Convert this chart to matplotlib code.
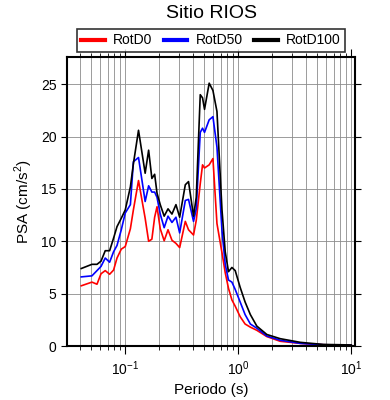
import numpy as np
import matplotlib
matplotlib.use('Agg')
import matplotlib.pyplot as plt
from matplotlib.ticker import LogLocator, MultipleLocator, NullFormatter

# -------------------------------------------------------------------------
# Datos (periodo en s, PSA en cm/s^2)
# -------------------------------------------------------------------------
periodo = [0.0408, 0.0507, 0.0562, 0.0610, 0.0665, 0.0727, 0.0788, 0.0845,
           0.0922, 0.100, 0.111, 0.118, 0.131, 0.150, 0.161, 0.172, 0.182,
           0.191, 0.204, 0.221, 0.239, 0.259, 0.281, 0.303, 0.340, 0.363,
           0.402, 0.425, 0.461, 0.483, 0.503, 0.553, 0.597, 0.648, 0.718,
           0.767, 0.820, 0.879, 0.940, 1.04, 1.15, 1.28, 1.46, 1.79, 2.35,
           3.54, 5.65, 10.0]

rotd0 = [5.75, 6.1, 5.9, 6.9, 7.2, 6.85, 7.25, 8.4, 9.25, 9.5, 11.2, 13.0,
         15.8, 12.2, 10.0, 10.2, 12.3, 13.3, 11.2, 10.05, 11.1, 10.1, 9.8,
         9.4, 11.9, 11.1, 10.6, 12.0, 15.5, 17.3, 17.0, 17.3, 17.9, 11.7,
         8.9, 7.0, 5.5, 4.4, 3.8, 2.8, 2.1, 1.8, 1.5, 0.9, 0.45, 0.25,
         0.12, 0.07]

rotd50 = [6.6, 6.7, 7.2, 7.6, 8.4, 8.0, 9.0, 9.6, 11.1, 12.7, 13.5, 17.6,
          18.0, 13.8, 15.3, 14.7, 14.7, 14.2, 12.6, 11.3, 12.4, 11.8, 12.3,
          10.8, 13.9, 14.0, 11.9, 13.1, 20.4, 20.8, 20.4, 21.6, 21.9, 19.0,
          11.0, 7.8, 6.3, 6.1, 5.4, 4.2, 3.0, 2.1, 1.7, 0.95, 0.55, 0.25,
          0.12, 0.07]

rotd100 = [7.4, 7.8, 7.8, 8.1, 9.1, 9.1, 10.3, 11.4, 12.2, 13.0, 15.2, 17.4,
           20.6, 16.5, 18.7, 16.0, 16.4, 14.6, 13.5, 12.4, 13.1, 12.6, 13.5,
           12.3, 15.4, 15.7, 12.4, 14.2, 24.0, 23.7, 22.6, 25.1, 24.4, 22.4,
           13.0, 9.0, 7.1, 7.5, 7.2, 5.6, 4.2, 3.0, 1.9, 1.1, 0.7, 0.35,
           0.15, 0.1]

SERIES = [
    ('RotD0',   rotd0,   'red'),
    ('RotD50',  rotd50,  'blue'),
    ('RotD100', rotd100, 'black'),
]

plt.rcParams['font.family'] = ['Liberation Sans', 'DejaVu Sans']
plt.rcParams['mathtext.fontset'] = 'custom'
plt.rcParams['mathtext.rm'] = 'Liberation Sans'

fig = plt.figure(figsize=(3.9, 4.0), dpi=100)
ax = fig.add_axes([67 / 390, 54 / 400, 288 / 390, 289 / 400])

for label, vals, color in SERIES:
    ax.plot(periodo, vals, color=color, lw=1.2, label=label)

ax.set_xscale('log')
ax.set_xlim(0.0305, 10.8)
ax.set_ylim(0, 27.6)

ax.xaxis.set_major_locator(LogLocator(base=10))
ax.xaxis.set_minor_locator(LogLocator(base=10, subs=np.arange(2, 10)))
ax.xaxis.set_minor_formatter(NullFormatter())
ax.yaxis.set_major_locator(MultipleLocator(5))

ax.grid(True, which='both', axis='x', color='0.55', lw=0.6)
ax.grid(True, which='major', axis='y', color='0.55', lw=0.6)

ax.tick_params(which='major', direction='out', length=6, width=0.8,
               labelsize=10, top=True, right=True)
ax.tick_params(which='minor', direction='out', length=3, width=0.6,
               top=True, right=False)
ax.tick_params(axis='y', which='major', length=4)
for sp in ax.spines.values():
    sp.set_linewidth(1.5)

ax.set_xlabel('Periodo (s)', fontsize=11)
ax.set_ylabel('PSA (cm/s$^2$)', fontsize=11)
fig.text(212 / 390, 1 - 14 / 400, 'Sitio RIOS', ha='center', va='center',
         fontsize=14)

leg = fig.legend(loc='center', ncol=3,
                 bbox_to_anchor=(211 / 390, 1 - 40.5 / 400),
                 fontsize=10, frameon=True, fancybox=False, handlelength=1.7,
                 borderpad=0.3, handletextpad=0.6, columnspacing=0.8,
                 borderaxespad=0)
leg.get_frame().set_edgecolor('black')
leg.get_frame().set_linewidth(1.2)
for line in leg.get_lines():
    line.set_linewidth(3)

fig.savefig('out.png', dpi=100)
